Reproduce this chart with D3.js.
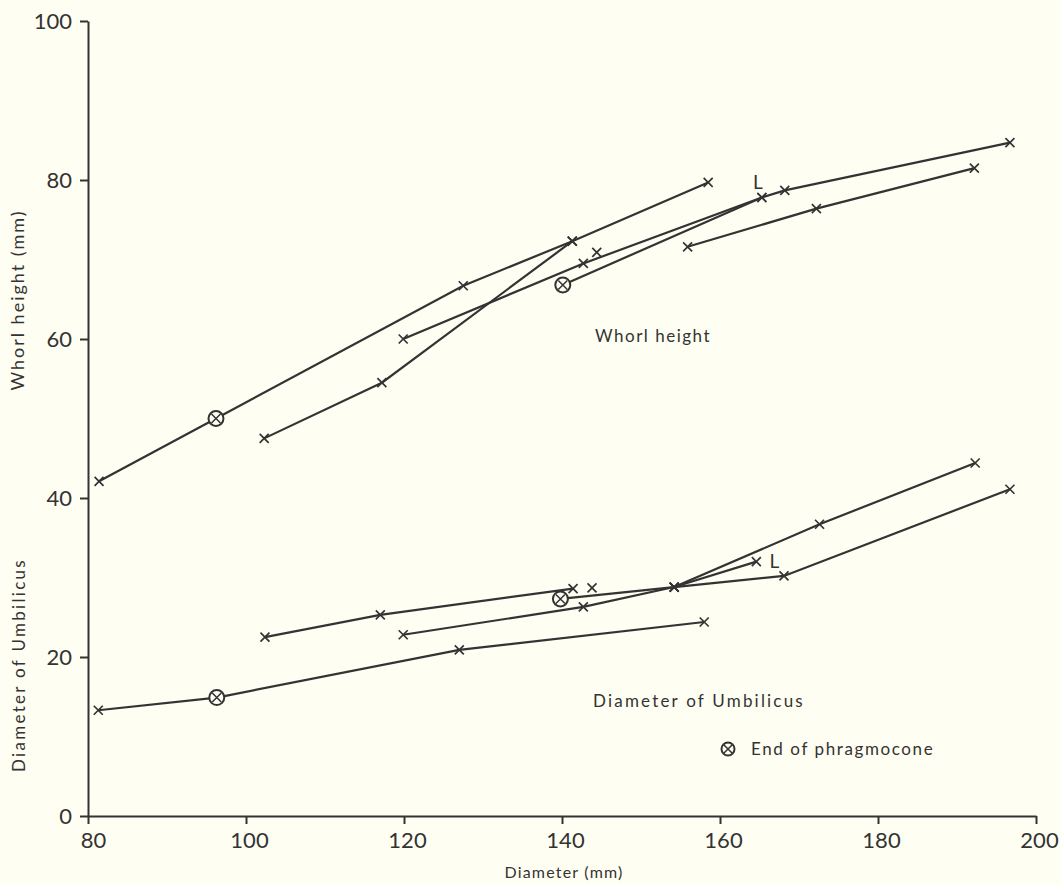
<!DOCTYPE html>
<html>
<head>
<meta charset="utf-8">
<script src="https://cdn.jsdelivr.net/npm/d3@7"></script>
<style>
	body { margin: 0; background: #fffef2; }
	svg { display: block; }
	text { font-family: Lato, "Open Sans", sans-serif; fill: #333; }
</style>
</head>
<body>
<svg id="chart" width="1061" height="884"></svg>
<script>
// diameter (mm), value (mm)
var whorlA = [[81.4, 42.1], [96.2, 50.0], [127.5, 66.7], [141.3, 72.3], [158.5, 79.7]];
var whorlB = [[102.3, 47.5], [117.2, 54.5], [141.3, 72.3]];
var whorlC = [[119.9, 60.0], [142.7, 69.5], [165.3, 77.8]];
var whorlD = [[140.1, 66.8], [165.3, 77.8], [168.2, 78.7], [196.7, 84.7]];
var whorlE = [[155.9, 71.6], [172.2, 76.4], [192.2, 81.5]];
var whorlSingle = [[144.4, 70.9]];

var umbA = [[81.3, 13.3], [96.3, 14.9], [127.0, 20.9], [158.0, 24.4]];
var umbB = [[102.4, 22.5], [117.0, 25.3], [141.4, 28.6]];
var umbC = [[119.9, 22.8], [142.7, 26.3], [154.2, 28.8], [164.6, 32.0]];
var umbD = [[139.8, 27.3], [154.2, 28.8], [168.1, 30.2], [196.7, 41.1]];
var umbE = [[154.2, 28.8], [172.6, 36.7], [192.3, 44.4]];
var umbSingle = [[143.8, 28.7]];

var phragmoconeEnds = [[96.2, 50.0], [140.1, 66.8], [96.3, 14.9], [139.8, 27.3]];
var lPoints = [[165.3, 77.8], [164.6, 32.0]];

var xTicks = [80, 100, 120, 140, 160, 180, 200];
var yTicks = [0, 20, 40, 60, 80, 100];

CHART = {
	init: function() {
		var svg = d3.select('#chart');
		var ink = '#333';

		var x = d3.scaleLinear().domain([80, 200]).range([88, 1036]);
		var y = d3.scaleLinear().domain([0, 100]).range([816, 21]);

		var line = d3.line()
			.x(function (d) { return x(d[0]); })
			.y(function (d) { return y(d[1]); });

		var series = [whorlA, whorlB, whorlC, whorlD, whorlE, umbA, umbB, umbC, umbD, umbE];

		svg.selectAll('path.series')
			.data(series)
			.enter()
			.append('path')
			.attr('class', 'series')
			.attr('d', line)
			.attr('fill', 'none')
			.attr('stroke', ink)
			.attr('stroke-width', 2.2);

		var isEnd = function (p) {
			return phragmoconeEnds.some(function (e) {
				return e[0] === p[0] && e[1] === p[1];
			});
		};

		var crosses = [];
		series.concat([whorlSingle, umbSingle]).forEach(function (s) {
			s.forEach(function (p) {
				if (!isEnd(p)) crosses.push(p);
			});
		});

		svg.selectAll('path.cross')
			.data(crosses)
			.enter()
			.append('path')
			.attr('class', 'cross')
			.attr('d', 'M-4.5,-4.5L4.5,4.5M4.5,-4.5L-4.5,4.5')
			.attr('transform', function (d) {
				return 'translate(' + x(d[0]) + ',' + y(d[1]) + ')';
			})
			.attr('stroke', ink)
			.attr('stroke-width', 1.7);

		var drawEnd = function (g) {
			g.append('circle')
				.attr('r', 7.5)
				.attr('fill', '#fffef2')
				.attr('stroke', ink)
				.attr('stroke-width', 2);
			g.append('path')
				.attr('d', 'M-4.5,-4.5L4.5,4.5M4.5,-4.5L-4.5,4.5')
				.attr('stroke', ink)
				.attr('stroke-width', 1.5);
		};

		svg.selectAll('g.end')
			.data(phragmoconeEnds)
			.enter()
			.append('g')
			.attr('class', 'end')
			.attr('transform', function (d) {
				return 'translate(' + x(d[0]) + ',' + y(d[1]) + ')';
			})
			.call(drawEnd);

		var lOffsets = [[-4, -8], [18, 6]];
		svg.selectAll('text.lmark')
			.data(lPoints)
			.enter()
			.append('text')
			.attr('class', 'lmark')
			.attr('x', function (d, i) { return x(d[0]) + lOffsets[i][0]; })
			.attr('y', function (d, i) { return y(d[1]) + lOffsets[i][1]; })
			.attr('text-anchor', 'middle')
			.attr('font-size', 19)
			.text('L');

		var xAxis = svg.append('g')
			.attr('transform', 'translate(0,' + y(0) + ')')
			.call(d3.axisBottom(x).tickValues(xTicks).tickSize(8).tickSizeOuter(0).tickPadding(8).tickFormat(d3.format('d')));
		xAxis.selectAll('text').attr('font-size', 22).attr('dx', function (d) { return d === 80 ? 5 : 3; });

		var yAxis = svg.append('g')
			.attr('transform', 'translate(' + x(80) + ',0)')
			.call(d3.axisLeft(y).tickValues(yTicks).tickSize(8).tickSizeOuter(0).tickPadding(8).tickFormat(d3.format('d')));
		yAxis.selectAll('text').attr('font-size', 22);

		svg.selectAll('.domain, .tick line')
			.attr('stroke', ink)
			.attr('stroke-width', 2);
		svg.selectAll('.tick text').attr('fill', '#333').attr('font-family', 'Lato, sans-serif');

		svg.append('text')
			.attr('x', 564)
			.attr('y', 878)
			.attr('text-anchor', 'middle')
			.attr('font-size', 16)
			.attr('letter-spacing', 1.2)
			.text('Diameter (mm)');

		svg.append('text')
			.attr('transform', 'translate(24,300) rotate(-90)')
			.attr('text-anchor', 'middle')
			.attr('font-size', 18)
			.attr('letter-spacing', 2)
			.text('Whorl height (mm)');

		svg.append('text')
			.attr('transform', 'translate(25,665) rotate(-90)')
			.attr('text-anchor', 'middle')
			.attr('font-size', 17)
			.attr('letter-spacing', 2.3)
			.text('Diameter of Umbilicus');

		svg.append('text')
			.attr('x', 595)
			.attr('y', 342)
			.attr('font-size', 17)
			.attr('letter-spacing', 1.5)
			.text('Whorl height');

		svg.append('text')
			.attr('x', 593)
			.attr('y', 707)
			.attr('font-size', 17)
			.attr('letter-spacing', 2.2)
			.text('Diameter of Umbilicus');

		var legend = svg.append('g')
			.attr('transform', 'translate(728,749)');
		legend.call(drawEnd);
		legend.select('circle').attr('r', 6.5);
		legend.append('text')
			.attr('x', 23)
			.attr('y', 6)
			.attr('font-size', 17)
			.attr('letter-spacing', 1.6)
			.text('End of phragmocone');
	}
};

CHART.init();
</script>
</body>
</html>
